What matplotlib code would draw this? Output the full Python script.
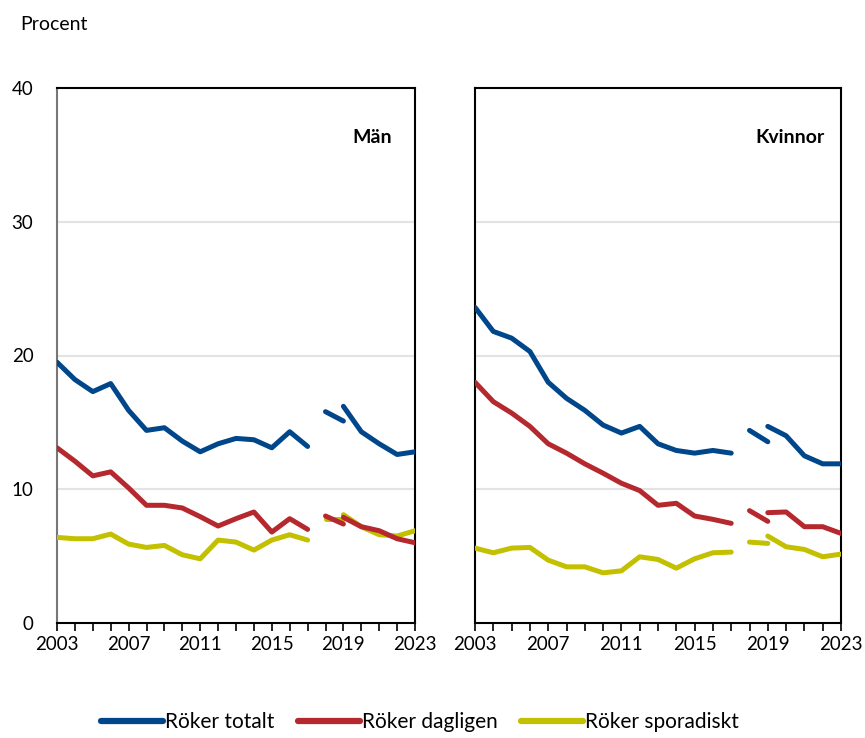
import matplotlib
matplotlib.use("Agg")
import matplotlib.pyplot as plt
from matplotlib.lines import Line2D

plt.rcParams['font.family'] = ['Lato', 'DejaVu Sans']

# Years for the three survey segments
years_a = list(range(2003, 2018))   # 2003-2017
years_b = [2018, 2019]              # 2018-2019 (old method)
years_c = list(range(2019, 2024))   # 2019-2023 (new method)

series_names = ["Röker totalt", "Röker dagligen", "Röker sporadiskt"]
colors = ["#00468b", "#b5282e", "#c3c000"]

# Män
man_totalt_a = [19.5, 18.2, 17.3, 17.9, 15.9, 14.4, 14.6, 13.6, 12.8, 13.4, 13.8, 13.7, 13.1, 14.3, 13.2]
man_totalt_b = [15.8, 15.1]
man_totalt_c = [16.2, 14.3, 13.4, 12.6, 12.8]
man_dagl_a = [13.1, 12.1, 11.0, 11.3, 10.1, 8.8, 8.8, 8.6, 7.95, 7.25, 7.8, 8.3, 6.8, 7.8, 7.0]
man_dagl_b = [8.0, 7.4]
man_dagl_c = [7.9, 7.2, 6.9, 6.3, 6.0]
man_spor_a = [6.4, 6.3, 6.3, 6.65, 5.9, 5.65, 5.8, 5.1, 4.8, 6.2, 6.05, 5.45, 6.2, 6.6, 6.2]
man_spor_b = [7.8, 7.8]
man_spor_c = [8.1, 7.2, 6.6, 6.5, 6.9]

# Kvinnor
kv_totalt_a = [23.6, 21.8, 21.3, 20.3, 18.0, 16.8, 15.9, 14.8, 14.2, 14.7, 13.4, 12.9, 12.7, 12.9, 12.7]
kv_totalt_b = [14.4, 13.55]
kv_totalt_c = [14.7, 14.0, 12.5, 11.9, 11.9]
kv_dagl_a = [18.0, 16.55, 15.7, 14.7, 13.4, 12.7, 11.9, 11.2, 10.45, 9.9, 8.8, 8.95, 8.0, 7.75, 7.45]
kv_dagl_b = [8.4, 7.6]
kv_dagl_c = [8.25, 8.3, 7.2, 7.2, 6.7]
kv_spor_a = [5.6, 5.25, 5.6, 5.65, 4.7, 4.2, 4.2, 3.75, 3.9, 4.95, 4.75, 4.1, 4.8, 5.25, 5.3]
kv_spor_b = [6.05, 5.95]
kv_spor_c = [6.5, 5.7, 5.5, 4.95, 5.15]

panels = [
    ("Män", [(man_totalt_a, man_totalt_b, man_totalt_c),
             (man_dagl_a, man_dagl_b, man_dagl_c),
             (man_spor_a, man_spor_b, man_spor_c)]),
    ("Kvinnor", [(kv_totalt_a, kv_totalt_b, kv_totalt_c),
                 (kv_dagl_a, kv_dagl_b, kv_dagl_c),
                 (kv_spor_a, kv_spor_b, kv_spor_c)]),
]

xtick_labels = [2003, 2007, 2011, 2015, 2019, 2023]
yticks = [0, 10, 20, 30, 40]

fig = plt.figure(figsize=(8.65, 7.38), dpi=100)
ax_rects = [[57/865, 1-623/738, 358/865, 535/738],
            [475/865, 1-623/738, 366/865, 535/738]]
title_pos = [(2021.7, 36.3), (2022.1, 36.3)]

lw = 3.6
for i, (title, data) in enumerate(panels):
    ax = fig.add_axes(ax_rects[i])
    for (a, b, c), col in zip(data[::-1], colors[::-1]):
        ax.plot(years_a, a, color=col, lw=lw, solid_capstyle='round', solid_joinstyle='round', zorder=3)
        ax.plot(years_b, b, color=col, lw=lw, solid_capstyle='round', solid_joinstyle='round', zorder=3)
        ax.plot(years_c, c, color=col, lw=lw, solid_capstyle='round', solid_joinstyle='round', zorder=3)
    ax.set_xlim(2003, 2023)
    ax.set_ylim(0, 40)
    ax.set_xticks(range(2003, 2024))
    ax.set_xticklabels([str(y) if y in xtick_labels else "" for y in range(2003, 2024)])
    ax.set_yticks(yticks)
    for g in [10, 20, 30]:
        ax.axhline(g, color='#e3e3e3', lw=1.5, zorder=1)
    ax.tick_params(axis='x', direction='out', length=6, width=1.2, color='black',
                   labelsize=13.5, pad=3)
    ax.tick_params(axis='y', length=0, labelsize=13.5, pad=17)
    if i == 1:
        ax.tick_params(axis='y', labelleft=False)
    for s in ax.spines.values():
        s.set_color('black')
        s.set_linewidth(1.5)
    if i == 0:
        ax.spines['left'].set_color('#777777')
    ax.text(title_pos[i][0], title_pos[i][1], title, ha='right', va='center',
            fontsize=14, fontweight='bold')

fig.text(20/865, 1-25/738, "Procent", ha='left', va='center', fontsize=14)

handles = [Line2D([0], [0], color=c, lw=4.5, solid_capstyle='round') for c in colors]
fig.legend(handles, series_names, loc='center', bbox_to_anchor=(420/865, 1-722/738),
           ncol=3, frameon=False, fontsize=15, handlelength=3.0, handletextpad=0.1,
           columnspacing=1.1)

fig.savefig("out.png", dpi=100)
